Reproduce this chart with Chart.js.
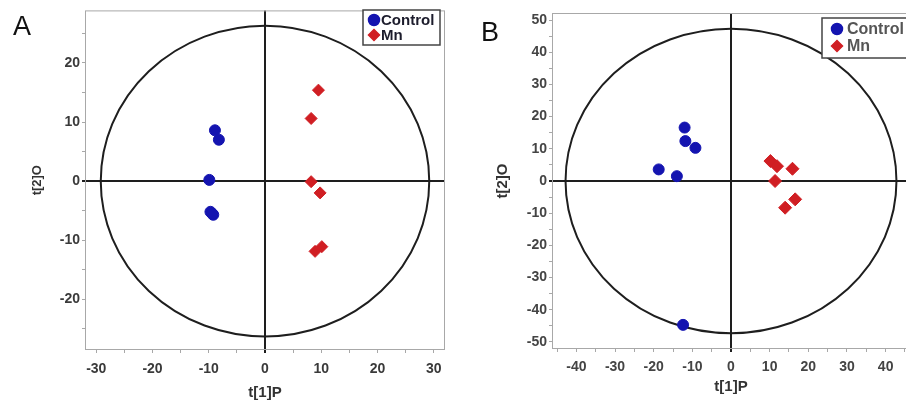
<!DOCTYPE html>
<html>
<head>
<meta charset="utf-8">
<script src="https://cdn.jsdelivr.net/npm/chart.js@4.4.1/dist/chart.umd.min.js"></script>
<style>
  html, body { margin: 0; padding: 0; background: #fff; width: 906px; height: 406px; overflow: hidden; }
  #wrap { position: relative; width: 906px; height: 406px; overflow: hidden; }
  canvas { position: absolute; top: 0; }
  #cA { left: 0; }
  #cB { left: 460px; }
  .tag { position: absolute; font-family: "Liberation Sans", Arial, sans-serif; font-size: 27px; line-height: 27px; color: #111; }
</style>
</head>
<body>
<div id="wrap">
  <canvas id="cA" width="460" height="406"></canvas>
  <canvas id="cB" width="460" height="406"></canvas>
  <div class="tag" style="left:13px;top:13px">A</div>
  <div class="tag" style="left:481px;top:19px">B</div>
</div>
<script>
// ================== Dados ==================

const seriesNames = ["Control", "Mn"];

// painel A
const controlA_x = [-8.9, -8.2, -9.9, -9.7, -9.2, -9.4];
const controlA_y = [8.6, 7.0, 0.2, -5.2, -5.7, -5.5];
const mnA_x = [9.5, 8.2, 8.2, 9.8, 8.9, 10.1];
const mnA_y = [15.4, 10.6, -0.1, -2.0, -11.9, -11.1];
const ellipseA = [29.2, 26.3]; // semi-eixos (t1, t2)

// painel B
const controlB_x = [-12.0, -11.8, -9.2, -18.7, -14.0, -12.4];
const controlB_y = [16.6, 12.4, 10.3, 3.6, 1.5, -44.7];
const mnB_x = [10.2, 11.9, 15.9, 11.4, 16.6, 14.0];
const mnB_y = [6.2, 4.6, 3.8, 0.0, -5.7, -8.3];
const ellipseB = [42.8, 47.3];

const tickLabelsA_x = [-30, -20, -10, 0, 10, 20, 30];
const tickLabelsA_y = [-20, -10, 0, 10, 20];
const tickLabelsB_x = [-40, -30, -20, -10, 0, 10, 20, 30, 40];
const tickLabelsB_y = [-50, -40, -30, -20, -10, 0, 10, 20, 30, 40, 50];

// ================== Estilo ==================

const BLUE = "#1414b0";
const RED = "#d01e23";
const FONT = '"Liberation Sans", Arial, sans-serif';

function toPoints(xs, ys) {
  return xs.map((x, i) => ({ x: x, y: ys[i] }));
}

// elipse de Hotelling + moldura da área do gráfico
const ellipsePlugin = {
  id: "hotelling",
  beforeDatasetsDraw(chart, args, opts) {
    const { ctx, chartArea } = chart;
    const sx = chart.scales.x;
    const sy = chart.scales.y;
    const cx = sx.getPixelForValue(0);
    const cy = sy.getPixelForValue(0);
    const rx = sx.getPixelForValue(opts.rx) - cx;
    const ry = cy - sy.getPixelForValue(opts.ry);

    ctx.save();
    ctx.strokeStyle = "#a8a8a8";
    ctx.lineWidth = 1;
    ctx.strokeRect(chartArea.left + 0.5, chartArea.top + 0.5,
      chartArea.right - chartArea.left - 1, chartArea.bottom - chartArea.top - 1);

    ctx.beginPath();
    ctx.ellipse(cx, cy, rx, ry, 0, 0, Math.PI * 2);
    ctx.lineWidth = 2;
    ctx.strokeStyle = "#1e1e1e";
    ctx.stroke();
    ctx.restore();
  },
};

// legenda em caixa, desenhada a partir dos datasets
const boxLegendPlugin = {
  id: "boxLegend",
  afterDraw(chart, args, opts) {
    const { ctx } = chart;
    ctx.save();
    ctx.fillStyle = "#fff";
    ctx.fillRect(opts.left, opts.top, opts.width, opts.height);
    ctx.strokeStyle = "#444";
    ctx.lineWidth = 1.5;
    ctx.strokeRect(opts.left, opts.top, opts.width, opts.height);

    chart.data.datasets.forEach((ds, i) => {
      const y = opts.top + opts.rowTop + i * opts.rowGap;
      ctx.fillStyle = ds.backgroundColor;
      ctx.strokeStyle = ds.borderColor;
      Chart.helpers.drawPoint(ctx, {
        pointStyle: ds.pointStyle,
        rotation: 0,
        radius: opts.markerRadius,
        borderWidth: 1,
      }, opts.left + opts.markerX, y);

      ctx.fillStyle = opts.color;
      ctx.font = opts.font;
      ctx.textBaseline = "middle";
      ctx.textAlign = "left";
      ctx.fillText(ds.label, opts.left + opts.textX, y + 1);
    });
    ctx.restore();
  },
};

function zeroOr(c, a, b) {
  return c.tick && c.tick.value === 0 ? a : b;
}

function makeScale(cfg) {
  return {
    type: "linear",
    min: cfg.min,
    max: cfg.max,
    ticks: {
      stepSize: 5,
      includeBounds: false,
      autoSkip: false,
      maxRotation: 0,
      padding: cfg.tickPad,
      color: cfg.tickColor,
      font: { family: FONT, size: cfg.tickSize, weight: "bold" },
      callback: (v) => (cfg.labels.includes(v) ? v : ""),
    },
    grid: {
      drawOnChartArea: true,
      drawTicks: true,
      tickLength: 3,
      color: (c) => zeroOr(c, "#1e1e1e", "rgba(0,0,0,0)"),
      lineWidth: (c) => zeroOr(c, 2, 1),
      tickColor: (c) => zeroOr(c, "#1e1e1e", "#a8a8a8"),
      tickWidth: (c) => zeroOr(c, 2, 1),
    },
    border: { display: false },
    title: {
      display: true,
      text: cfg.title,
      color: "#333",
      font: { family: FONT, size: cfg.titleSize, weight: "bold" },
      padding: cfg.titlePad,
    },
    afterFit: (scale) => {
      if (cfg.width != null) scale.width = cfg.width;
      if (cfg.height != null) scale.height = cfg.height;
    },
  };
}

function makeChart(canvasId, p) {
  return new Chart(document.getElementById(canvasId), {
    type: "scatter",
    data: {
      datasets: [
        {
          label: seriesNames[0],
          data: toPoints(p.cx, p.cy),
          pointStyle: "circle",
          pointRadius: p.circleR,
          backgroundColor: BLUE,
          borderColor: BLUE,
          borderWidth: 1,
        },
        {
          label: seriesNames[1],
          data: toPoints(p.mx, p.my),
          pointStyle: "rectRot",
          pointRadius: p.diamondR,
          backgroundColor: RED,
          borderColor: RED,
          borderWidth: 1,
        },
      ],
    },
    options: {
      responsive: false,
      animation: false,
      devicePixelRatio: 1,
      layout: { padding: p.padding },
      scales: { x: p.xScale, y: p.yScale },
      plugins: {
        legend: { display: false },
        tooltip: { enabled: false },
        hotelling: { rx: p.ellipse[0], ry: p.ellipse[1] },
        boxLegend: p.legend,
      },
    },
    plugins: [ellipsePlugin, boxLegendPlugin],
  });
}

// ================== Painel A ==================

makeChart("cA", {
  cx: controlA_x, cy: controlA_y, mx: mnA_x, my: mnA_y,
  ellipse: ellipseA,
  circleR: 5.5, diamondR: 6,
  padding: { top: 8, right: 15, left: 0, bottom: 0 },
  xScale: makeScale({
    min: -32, max: 32, labels: tickLabelsA_x, tickPad: 8, tickColor: "#3a3a3a", tickSize: 14,
    title: "t[1]P", titleSize: 15, titlePad: { top: 0, bottom: 4 }, height: 56,
  }),
  yScale: makeScale({
    min: -28.6, max: 28.9, labels: tickLabelsA_y, tickPad: 2, tickColor: "#3a3a3a", tickSize: 14,
    title: "t[2]O", titleSize: 13, titlePad: { top: 30, bottom: 0 }, width: 85,
  }),
  legend: {
    left: 363, top: 10, width: 77, height: 35,
    rowTop: 10, rowGap: 15, markerX: 11, textX: 18, markerRadius: 5.5,
    font: 'bold 15px "Liberation Sans", Arial, sans-serif', color: "#1c1c2c",
  },
});

// ================== Painel B ==================

makeChart("cB", {
  cx: controlB_x, cy: controlB_y, mx: mnB_x, my: mnB_y,
  ellipse: ellipseB,
  circleR: 5.5, diamondR: 6.5,
  padding: { top: 13, right: 10, left: 0, bottom: 0 },
  xScale: makeScale({
    min: -46.3, max: 46.3, labels: tickLabelsB_x, tickPad: 7, tickColor: "#444", tickSize: 14,
    title: "t[1]P", titleSize: 15, titlePad: { top: 0, bottom: 10 }, height: 57,
  }),
  yScale: makeScale({
    min: -52.2, max: 52.2, labels: tickLabelsB_y, tickPad: 2, tickColor: "#444", tickSize: 14,
    title: "t[2]O", titleSize: 15, titlePad: { top: 34, bottom: 0 }, width: 92,
  }),
  legend: {
    left: 362, top: 18, width: 100, height: 40,
    rowTop: 11, rowGap: 17, markerX: 15, textX: 25, markerRadius: 5.5,
    font: 'bold 16px "Liberation Sans", Arial, sans-serif', color: "#555",
  },
});
</script>
</body>
</html>
